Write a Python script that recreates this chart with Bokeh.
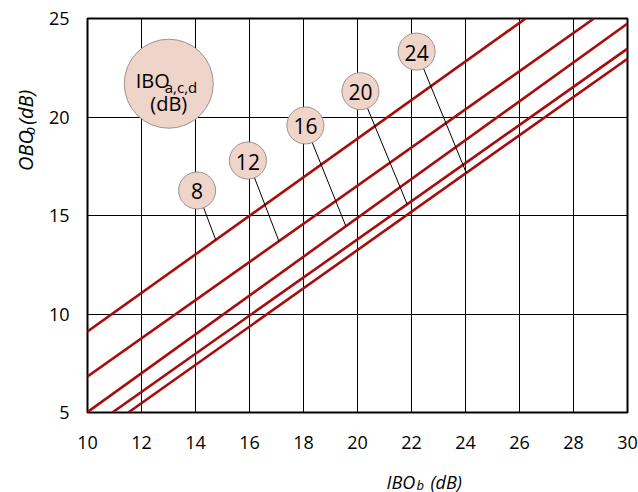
import numpy as np
from bokeh.plotting import figure
from bokeh.layouts import row, column
from bokeh.models import Range1d, Label, FixedTicker, ColumnDataSource
from bokeh.embed import file_html
from bokeh.resources import INLINE
from bokeh.core.properties import value

# ---- data ----
ibo_acd = [8, 12, 16, 20, 24]                 # curve parameter IBO_a,c,d (dB)
ibo_b_start = [10.0, 10.0, 10.0, 10.92, 11.51]
obo_b_start = [9.11, 6.83, 5.02, 5.0, 5.0]
ibo_b_end = [26.23, 28.76, 30.0, 30.0, 30.0]
obo_b_end = [25.0, 25.0, 24.74, 23.47, 22.96]
x_ticks = [10, 12, 14, 16, 18, 20, 22, 24, 26, 28, 30]
y_ticks = [5, 10, 15, 20, 25]

# ---- annotation placement (data coordinates) ----
label_x = [14.06, 15.94, 18.07, 20.11, 22.19]
label_y = [16.27, 17.79, 19.57, 21.31, 23.32]
leader_x = [14.75, 17.09, 19.57, 21.84, 24.03]
legend_x, legend_y = 13.01, 21.69

FONT = "Open Sans"
RED = "#a80c0c"
FILL = "#efd4c9"
EDGE = "#9c918c"

YT_W = 40          # width of the y-title strip
XT_H = 32          # height of the x-title strip
W, H = 638 - YT_W, 492 - XT_H

p = figure(width=W, height=H, x_range=Range1d(10, 30), y_range=Range1d(5, 25),
           output_backend="svg", toolbar_location=None, title=None,
           min_border_left=87 - YT_W, min_border_right=11, min_border_top=18,
           min_border_bottom=H - 412)
p.background_fill_color = "white"
p.border_fill_color = "white"
p.outline_line_color = "black"
p.outline_line_width = 2

p.xaxis.ticker = FixedTicker(ticks=x_ticks)
p.yaxis.ticker = FixedTicker(ticks=y_ticks)
p.xgrid.ticker = FixedTicker(ticks=x_ticks)
p.ygrid.ticker = FixedTicker(ticks=y_ticks)
p.grid.grid_line_color = "black"
p.grid.grid_line_width = 1
p.grid.grid_line_alpha = 1.0

for ax in (p.xaxis[0], p.yaxis[0]):
    ax.axis_line_color = None
    ax.major_tick_line_color = None
    ax.minor_tick_line_color = None
    ax.major_tick_out = 0
    ax.major_tick_in = 0
    ax.major_label_text_font = FONT
    ax.major_label_text_font_size = "18px"
    ax.major_label_text_color = "black"
p.xaxis.major_label_standoff = 23
p.yaxis.major_label_standoff = 18

# curves
src = ColumnDataSource(dict(x0=ibo_b_start, y0=obo_b_start, x1=ibo_b_end, y1=obo_b_end))
p.segment(x0="x0", y0="y0", x1="x1", y1="y1", source=src, line_color=RED, line_width=2.6)

# leader lines: from label to the point on its curve
leader_y = [obo_b_start[i] + (obo_b_end[i] - obo_b_start[i]) * (leader_x[i] - ibo_b_start[i]) /
            (ibo_b_end[i] - ibo_b_start[i]) for i in range(len(ibo_acd))]
p.segment(x0=label_x, y0=label_y, x1=leader_x, y1=leader_y, line_color="black", line_width=1)

# bubbles
p.scatter(x=[legend_x], y=[legend_y], marker="circle", size=89,
          fill_color=FILL, line_color=EDGE, line_width=1)
p.scatter(x=label_x, y=label_y, marker="circle", size=37,
          fill_color=FILL, line_color=EDGE, line_width=1)
p.text(x=label_x, y=label_y, text=[str(v) for v in ibo_acd],
       text_font=value(FONT), text_font_size=value("21px"), text_color="black",
       text_align="center", text_baseline="middle", y_offset=1)


def lab(fig, x, y, text, size="20px", style="normal", angle=0, align="left", dx=0, dy=0):
    fig.add_layout(Label(x=x, y=y, x_offset=dx, y_offset=dy,
                         text=text, text_font=FONT,
                         text_font_size=size, text_font_style=style, angle=angle,
                         text_align=align, text_baseline="alphabetic", text_color="black"))


# legend bubble text (offsets in pixels from bubble center)
lab(p, legend_x, legend_y, "IBO", dx=-33, dy=3)
lab(p, legend_x, legend_y, "a,c,d", size="15px", dx=-4, dy=-3)
lab(p, legend_x, legend_y, "(dB)", align="center", dx=0, dy=-20)


def strip(width, height):
    f = figure(width=width, height=height, x_range=Range1d(0, width), y_range=Range1d(0, height),
               output_backend="svg", toolbar_location=None, title=None,
               x_axis_type=None, y_axis_type=None, min_border=0)
    f.outline_line_color = None
    f.background_fill_color = "white"
    f.border_fill_color = "white"
    f.grid.visible = False
    return f


# y-axis title strip (pixel coordinates inside the strip, y upwards)
yt = strip(YT_W, H)
lab(yt, 25, H - 178, "OBO", size="20px", style="italic", angle=np.pi / 2)
lab(yt, 29, H - 136, "b", size="14px", style="italic", angle=np.pi / 2)
lab(yt, 25, H - 124, "(dB)", size="20px", style="italic", angle=np.pi / 2)

# x-axis title strip, full width
xt = strip(638, XT_H)
lab(xt, 386, 492 - 481, "IBO", size="18px", style="italic")
lab(xt, 416, 492 - 484, "b", size="13px", style="italic")
lab(xt, 430, 492 - 481, "(dB)", size="18px", style="italic")

layout = column(row(yt, p, spacing=0), xt, spacing=0)

open("out.html", "w").write(file_html(layout, INLINE))
